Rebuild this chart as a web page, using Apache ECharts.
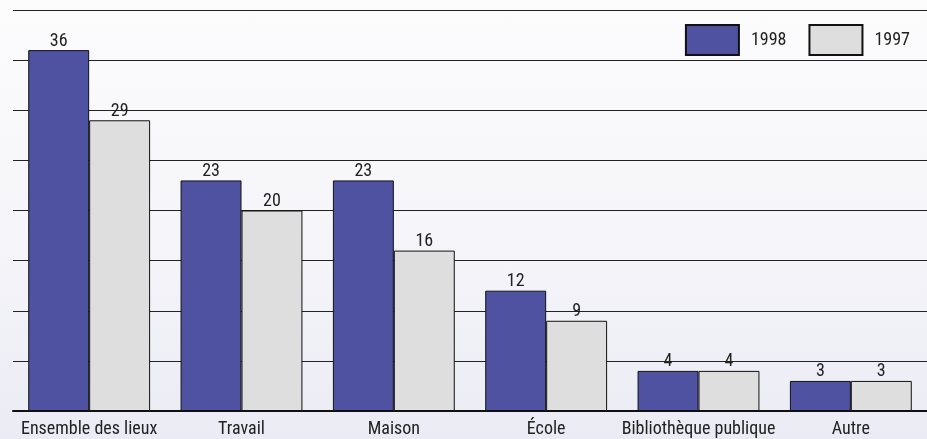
<!DOCTYPE html>
<html><head><meta charset="utf-8">
<script src="https://cdn.jsdelivr.net/npm/echarts@6/dist/echarts.min.js"></script>
<style>
html,body{margin:0;padding:0;}
#c{width:927px;height:439px;background:linear-gradient(to bottom,#fcfcfd 0%,#f6f6fa 50%,#ebebf5 100%);}
</style></head>
<body><div id="c"></div>
<script>
const categories = ['Ensemble des lieux','Travail','Maison','École','Bibliothèque publique','Autre'];
const values1998 = [36, 23, 23, 12, 4, 3];
const values1997 = [29, 20, 16, 9, 4, 3];
const seriesNames = ['1998','1997'];
const FONT = '"Liberation Sans Narrow","Roboto Condensed","DejaVu Sans Condensed",sans-serif';
const chart = echarts.init(document.getElementById('c'));
chart.setOption({
  backgroundColor: 'transparent',
  animation: false,
  textStyle: {fontFamily: FONT},
  legend: {
    right: 12, top: 19, itemWidth: 53, itemHeight: 30, itemGap: 22,
    icon: 'rect',
    textStyle: {fontFamily: FONT, fontSize: 18, color: '#222', padding: [0,0,0,7]},
    data: seriesNames
  },
  grid: {left: 13, right: 0, top: 10, bottom: 28},
  xAxis: {
    type: 'category', data: categories,
    axisLine: {lineStyle: {color: '#111', width: 2}},
    axisTick: {show: false},
    axisLabel: {interval: 0, fontFamily: FONT, fontSize: 18, color: '#222', margin: 9}
  },
  yAxis: {
    type: 'value', min: 0, max: 40, interval: 5,
    axisLine: {show: false}, axisTick: {show: false}, axisLabel: {show: false},
    splitLine: {lineStyle: {color: '#222', width: 1}}
  },
  series: [
    {name: seriesNames[0], type: 'bar', data: values1998, barGap: '0%', barCategoryGap: '20%',
     itemStyle: {color: '#4f52a1', borderColor: '#111', borderWidth: 1},
     label: {show: true, position: 'top', distance: 0, fontFamily: FONT, fontSize: 18, color: '#222'}},
    {name: seriesNames[1], type: 'bar', data: values1997, barGap: '0%', barCategoryGap: '20%',
     itemStyle: {color: '#dedede', borderColor: '#111', borderWidth: 1},
     label: {show: true, position: 'top', distance: 0, fontFamily: FONT, fontSize: 18, color: '#222'}}
  ]
});
</script></body></html>
